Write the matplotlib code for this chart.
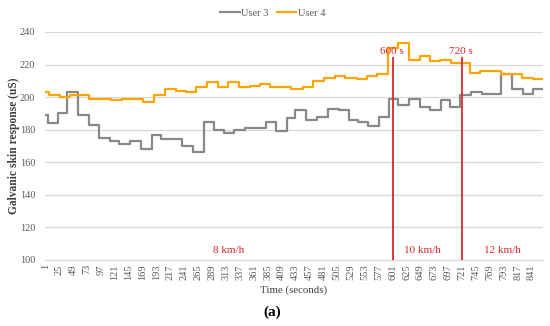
import matplotlib.pyplot as plt
import numpy as np

# step data: second where each level starts, and the level (uS)
user3_start = [1, 5, 22, 39, 57, 76, 93, 112, 128, 148, 166, 185, 200, 237, 256, 275,
               292, 310, 327, 346, 382, 400, 418, 433, 452, 470, 489, 508, 526, 541,
               558, 577, 595, 611, 630, 649, 666, 684, 700, 718, 737, 755, 789, 807,
               826, 844]
user3_value = [189, 184, 190, 203, 189, 183, 175, 173, 171, 173, 168, 177, 174, 170, 166, 185,
               180, 178, 180, 181, 185, 179, 187, 192, 186, 188, 193, 192, 186, 185,
               182, 188, 199, 195, 199, 194, 192, 198, 194, 201, 203, 202, 214, 205,
               202, 205]

user4_start = [1, 8, 27, 44, 77, 114, 134, 169, 188, 207, 226, 244, 262, 281, 299, 316,
               335, 354, 371, 389, 426, 446, 463, 483, 502, 519, 539, 556, 574, 593,
               611, 630, 649, 666, 683, 702, 734, 752, 789, 824, 843]
user4_value = [203, 201, 200, 201, 199, 198, 199, 197, 201, 205, 204, 203, 206, 209, 206, 209,
               206, 207, 208, 206, 205, 206, 210, 212, 213, 212, 211, 213, 214, 230,
               233, 223, 225, 222, 223, 221, 215, 216, 214, 212, 211]

last_second = 860
tick_labels = list(range(1, 842, 24))
markers = [601, 721]
marker_text = ["600 s", "720 s"]
speed_text = ["8 km/h", "10 km/h", "12 km/h"]
speed_pos = [317, 652, 790]

plt.rcParams["font.family"] = ["Liberation Serif", "DejaVu Serif"]

fig = plt.figure(figsize=(5.5, 3.26), dpi=100)
ax = fig.add_axes([0.082, 0.2025, 0.905, 0.6995])

x3 = user3_start + [last_second]
y3 = user3_value + [user3_value[-1]]
x4 = user4_start + [last_second]
y4 = user4_value + [user4_value[-1]]
ax.step(x3, y3, where="post", color="#888888", lw=1.6, label="User 3", zorder=3)
ax.step(x4, y4, where="post", color="#FFA500", lw=1.6, label="User 4", zorder=4)

red = "#e0262b"
for m, t in zip(markers, marker_text):
    ax.plot([m, m], [100, 224], color=red, lw=1.3, zorder=5)
    ax.text(m - 2, 228, t, color=red, fontsize=8, ha="center", va="center", zorder=6)
for p, t in zip(speed_pos, speed_text):
    ax.text(p, 106, t, color=red, fontsize=8, ha="center", va="center")

ax.set_xlim(0.5, last_second + 0.5)
ax.set_ylim(100, 240)
ax.set_yticks(range(100, 241, 20))
ax.set_xticks(tick_labels)
ax.set_xticklabels([str(t) for t in tick_labels], rotation=90, fontsize=7.5, color="#595959")
ax.tick_params(axis="y", labelsize=7.5, colors="#595959", length=0, pad=7)
ax.tick_params(axis="x", length=0, pad=3)
ax.grid(axis="y", color="#d9d9d9", lw=0.9)
ax.set_axisbelow(True)
for s in ["top", "right", "left"]:
    ax.spines[s].set_visible(False)
ax.spines["bottom"].set_color("#d9d9d9")

ax.set_ylabel("Galvanic skin response (uS)", fontsize=8.3, fontweight="bold", color="#404040", labelpad=0)
ax.set_xlabel("Time (seconds)", fontsize=7.8, color="#404040", labelpad=4)

ax.legend(loc="lower center", bbox_to_anchor=(0.457, 1.015), ncol=2, frameon=False, fontsize=7.5,
          handlelength=1.9, columnspacing=0.8, handletextpad=0.1, borderaxespad=0.6,
          labelcolor="#595959")

fig.text(0.495, 0.043, "(a)", fontsize=11, fontweight="bold", ha="center", va="center")

plt.savefig("out.png", dpi=100)
